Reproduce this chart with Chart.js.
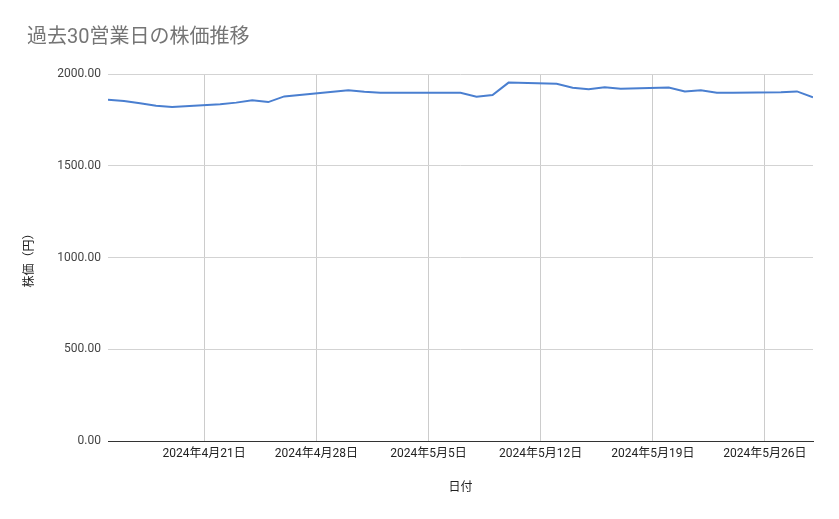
<!DOCTYPE html>
<html>
<head>
<meta charset="utf-8">
<script src="https://cdn.jsdelivr.net/npm/chart.js@4.4.1/dist/chart.umd.min.js"></script>
<style>
html,body{margin:0;padding:0;background:#fff;}
#wrap{width:839px;height:519px;position:relative;}
</style>
</head>
<body>
<div id="wrap"><canvas id="c" width="839" height="519"></canvas></div>
<script>
const chartTitle = '過去30営業日の株価推移';
const xTitle = '日付';
const yTitle = '株価（円）';
const dates = [
  '2024-04-15','2024-04-16','2024-04-17','2024-04-18','2024-04-19',
  '2024-04-22','2024-04-23','2024-04-24','2024-04-25','2024-04-26',
  '2024-04-30','2024-05-01','2024-05-02',
  '2024-05-07','2024-05-08','2024-05-09','2024-05-10',
  '2024-05-13','2024-05-14','2024-05-15','2024-05-16','2024-05-17',
  '2024-05-20','2024-05-21','2024-05-22','2024-05-23','2024-05-24',
  '2024-05-27','2024-05-28','2024-05-29'
];
const prices = [
  1860,1853,1840,1827,1820,
  1835,1844,1857,1847,1878,
  1912,1903,1898,
  1898,1876,1885,1953,
  1947,1925,1917,1928,1920,
  1926,1905,1911,1898,1898,
  1900,1905,1873
];
const xTickDates = ['2024-04-21','2024-04-28','2024-05-05','2024-05-12','2024-05-19','2024-05-26'];
const yTicks = [0,500,1000,1500,2000];

const DAY = 86400000;
function toDay(s){ const [y,m,d] = s.split('-').map(Number); return Date.UTC(y,m-1,d)/DAY; }
function fmtDay(v){ const dt = new Date(v*DAY); return dt.getUTCFullYear()+'年'+(dt.getUTCMonth()+1)+'月'+dt.getUTCDate()+'日'; }

const points = dates.map((d,i)=>({x:toDay(d), y:prices[i]}));
const FONT = "Roboto, Arial, 'Noto Sans CJK JP', sans-serif";

const titlePlugin = {
  id:'sheetTitle',
  afterDraw(chart){
    const ctx = chart.ctx;
    ctx.save();
    ctx.font = "20px " + FONT;
    ctx.fillStyle = '#757575';
    ctx.textBaseline = 'middle';
    ctx.textAlign = 'left';
    ctx.fillText(chartTitle, 27, 38);
    ctx.restore();
  }
};

new Chart(document.getElementById('c'), {
  type:'line',
  data:{ datasets:[{
    data: points,
    borderColor:'#4a7fd0',
    borderWidth:2,
    pointRadius:0,
    pointHoverRadius:0,
    tension:0,
    fill:false
  }]},
  options:{
    responsive:false,
    animation:false,
    events:[],
    layout:{ padding:{ left:24, right:26, top:74, bottom:20 } },
    plugins:{ legend:{display:false}, title:{display:false}, tooltip:{enabled:false} },
    scales:{
      x:{
        type:'linear',
        min: toDay(dates[0]),
        max: toDay(dates[dates.length-1]),
        afterBuildTicks(scale){ scale.ticks = xTickDates.map(d=>({value:toDay(d)})); },
        afterFit(scale){ scale.height = 58; },
        ticks:{ callback:(v)=>fmtDay(v), padding:6, maxRotation:0, autoSkip:false, color:'#222', font:{family:FONT, size:12} },
        grid:{ color:'#cccccc', lineWidth:1, drawTicks:false },
        border:{ display:true, color:'#333333', width:1 },
        title:{ display:true, text:xTitle, color:'#222', font:{family:FONT, size:12}, padding:{top:4,bottom:4} }
      },
      y:{
        min:0, max:2000,
        afterBuildTicks(scale){ scale.ticks = yTicks.map(v=>({value:v})); },
        afterFit(scale){ scale.width = 84; },
        ticks:{ callback:(v)=>v.toFixed(2), padding:7, color:'#444', font:{family:FONT, size:12} },
        grid:{ color:(c)=> c.tick && c.tick.value===0 ? '#333333' : '#d3d3d3', lineWidth:1, drawTicks:false },
        border:{ display:false },
        title:{ display:true, text:yTitle, color:'#222', font:{family:FONT, size:12, lineHeight:1}, padding:{top:0,bottom:0} }
      }
    }
  },
  plugins:[titlePlugin]
});
</script>
</body>
</html>
